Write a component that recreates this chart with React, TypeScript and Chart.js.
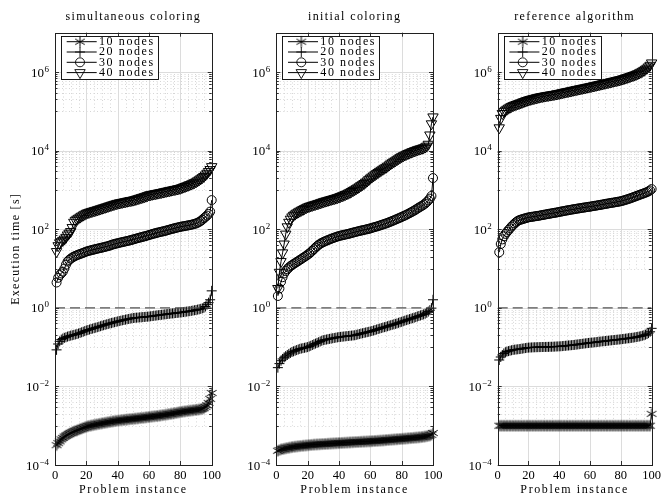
import React, { useEffect, useRef } from 'react';
import { Chart, registerables } from 'chart.js';
import { drawPoint } from 'chart.js/helpers';

Chart.register(...registerables);

// ---------------- data ----------------
const instances = Array.from({ length: 100 }, (_, i) => i + 1);
const seriesLabels = ['10 nodes', '20 nodes', '30 nodes', '40 nodes'];
const panelTitles = ['simultaneous coloring', 'initial coloring', 'reference algorithm'];
const xTickValues = [0, 20, 40, 60, 80, 100];
const yTickValues = [1e-4, 1e-2, 1, 1e2, 1e4, 1e6];
const yTickBase = '10';
const yTickExponents = ['−4', '−2', '0', '2', '4', '6'];
const xAxisTitle = 'Problem instance';
const yAxisTitle = 'Execution time [s]';
const thresholdX = [0, 100];
const thresholdY = [1, 1];

const sim10 = [
  3.2e-4, 3.6e-4, 4.0e-4, 4.5e-4, 4.9e-4, 5.3e-4, 5.6e-4, 5.9e-4, 6.2e-4, 6.5e-4,
  6.8e-4, 7.1e-4, 7.4e-4, 7.6e-4, 7.9e-4, 8.2e-4, 8.5e-4, 8.8e-4, 9.1e-4, 9.4e-4,
  9.7e-4, 9.9e-4, 1.01e-3, 1.03e-3, 1.05e-3, 1.07e-3, 1.09e-3, 1.11e-3, 1.13e-3, 1.15e-3,
  1.17e-3, 1.19e-3, 1.21e-3, 1.23e-3, 1.25e-3, 1.27e-3, 1.29e-3, 1.31e-3, 1.33e-3, 1.35e-3,
  1.36e-3, 1.38e-3, 1.39e-3, 1.41e-3, 1.42e-3, 1.44e-3, 1.45e-3, 1.47e-3, 1.48e-3, 1.50e-3,
  1.51e-3, 1.53e-3, 1.54e-3, 1.56e-3, 1.58e-3, 1.59e-3, 1.61e-3, 1.63e-3, 1.65e-3, 1.67e-3,
  1.69e-3, 1.71e-3, 1.73e-3, 1.75e-3, 1.77e-3, 1.79e-3, 1.81e-3, 1.84e-3, 1.86e-3, 1.89e-3,
  1.92e-3, 1.95e-3, 1.98e-3, 2.01e-3, 2.04e-3, 2.07e-3, 2.11e-3, 2.15e-3, 2.19e-3, 2.23e-3,
  2.26e-3, 2.29e-3, 2.32e-3, 2.35e-3, 2.38e-3, 2.41e-3, 2.44e-3, 2.47e-3, 2.50e-3, 2.53e-3,
  2.56e-3, 2.60e-3, 2.64e-3, 2.70e-3, 2.80e-3, 3.0e-3, 3.3e-3, 3.8e-3, 4.8e-3, 6.8e-3,
];
const sim20 = [
  0.085, 0.12, 0.14, 0.155, 0.165, 0.172, 0.178, 0.185, 0.19, 0.196,
  0.2, 0.205, 0.21, 0.215, 0.222, 0.23, 0.238, 0.246, 0.255, 0.265,
  0.272, 0.28, 0.288, 0.296, 0.304, 0.312, 0.32, 0.33, 0.34, 0.35,
  0.36, 0.37, 0.38, 0.39, 0.4, 0.41, 0.42, 0.43, 0.44, 0.45,
  0.46, 0.47, 0.48, 0.49, 0.5, 0.51, 0.52, 0.53, 0.54, 0.55,
  0.555, 0.56, 0.565, 0.57, 0.575, 0.58, 0.585, 0.59, 0.595, 0.6,
  0.608, 0.616, 0.624, 0.632, 0.64, 0.648, 0.656, 0.664, 0.672, 0.68,
  0.688, 0.696, 0.704, 0.712, 0.72, 0.728, 0.736, 0.744, 0.752, 0.76,
  0.77, 0.78, 0.79, 0.8, 0.81, 0.82, 0.835, 0.85, 0.865, 0.88,
  0.9, 0.92, 0.94, 0.97, 1.0, 1.08, 1.2, 1.35, 1.6, 2.7,
];
const sim30 = [
  4.4, 5.8, 6.8, 7.5, 8.3, 10, 12.5, 15, 16.5, 17.8,
  19, 20, 21, 21.8, 22.6, 23.4, 24.2, 25, 26, 27,
  27.7, 28.4, 29.1, 29.8, 30.5, 31.2, 31.9, 32.6, 33.3, 34,
  34.8, 35.6, 36.4, 37.3, 38.5, 39.8, 41, 42, 43, 44,
  45, 46, 47, 48, 49, 50, 51, 52.3, 53.6, 55,
  56.5, 58, 59.5, 61, 62.5, 64, 65.6, 67.3, 69, 71,
  73, 75, 77, 79, 81, 82.8, 84.6, 86.4, 88.2, 90,
  92.5, 95, 97.5, 100, 102.5, 105, 107.5, 110, 112.5, 115,
  117, 119, 121, 123, 125, 127.5, 130, 133, 136.5, 140,
  146, 153, 162, 174, 190, 205, 222, 245, 280, 550,
];
const sim40 = [
  27, 38, 45, 48, 52, 56, 62, 71, 79, 87,
  110, 150, 168, 180, 190, 203, 215, 228, 240, 253,
  262, 270, 278, 286, 294, 302, 311, 320, 330, 340,
  350, 360, 371, 382, 394, 406, 418, 430, 442, 455,
  464, 473, 482, 492, 502, 512, 522, 533, 541, 550,
  565, 580, 597, 614, 632, 650, 670, 690, 715, 740,
  755, 770, 785, 800, 815, 830, 846, 862, 880, 900,
  918, 936, 955, 975, 995, 1015, 1035, 1056, 1078, 1100,
  1140, 1180, 1220, 1265, 1310, 1360, 1410, 1470, 1530, 1600,
  1700, 1800, 1920, 2050, 2200, 2400, 2650, 2950, 3300, 3900,
];

const init10 = [
  2.3e-4, 2.4e-4, 2.5e-4, 2.55e-4, 2.6e-4, 2.65e-4, 2.7e-4, 2.75e-4, 2.8e-4, 2.85e-4,
  2.9e-4, 2.93e-4, 2.96e-4, 3.0e-4, 3.03e-4, 3.06e-4, 3.09e-4, 3.12e-4, 3.15e-4, 3.18e-4,
  3.21e-4, 3.24e-4, 3.27e-4, 3.3e-4, 3.32e-4, 3.34e-4, 3.36e-4, 3.38e-4, 3.4e-4, 3.42e-4,
  3.44e-4, 3.46e-4, 3.48e-4, 3.5e-4, 3.52e-4, 3.54e-4, 3.56e-4, 3.58e-4, 3.6e-4, 3.62e-4,
  3.64e-4, 3.66e-4, 3.68e-4, 3.7e-4, 3.72e-4, 3.74e-4, 3.76e-4, 3.78e-4, 3.8e-4, 3.82e-4,
  3.84e-4, 3.86e-4, 3.88e-4, 3.9e-4, 3.92e-4, 3.94e-4, 3.96e-4, 3.98e-4, 4.0e-4, 4.02e-4,
  4.05e-4, 4.08e-4, 4.1e-4, 4.12e-4, 4.15e-4, 4.18e-4, 4.2e-4, 4.23e-4, 4.26e-4, 4.3e-4,
  4.33e-4, 4.36e-4, 4.4e-4, 4.43e-4, 4.46e-4, 4.5e-4, 4.53e-4, 4.56e-4, 4.6e-4, 4.63e-4,
  4.67e-4, 4.7e-4, 4.74e-4, 4.78e-4, 4.82e-4, 4.86e-4, 4.9e-4, 4.94e-4, 4.98e-4, 5.02e-4,
  5.07e-4, 5.12e-4, 5.18e-4, 5.25e-4, 5.33e-4, 5.42e-4, 5.52e-4, 5.65e-4, 5.85e-4, 6.5e-4,
];
const init20 = [
  0.03, 0.038, 0.045, 0.05, 0.055, 0.059, 0.063, 0.067, 0.071, 0.075,
  0.078, 0.081, 0.084, 0.087, 0.09, 0.092, 0.094, 0.096, 0.098, 0.1,
  0.104, 0.108, 0.113, 0.118, 0.123, 0.128, 0.133, 0.139, 0.145, 0.15,
  0.153, 0.156, 0.159, 0.162, 0.165, 0.168, 0.171, 0.174, 0.177, 0.18,
  0.182, 0.184, 0.186, 0.188, 0.19, 0.192, 0.194, 0.196, 0.198, 0.2,
  0.205, 0.21, 0.215, 0.22, 0.225, 0.23, 0.235, 0.24, 0.245, 0.25,
  0.257, 0.264, 0.272, 0.28, 0.288, 0.296, 0.305, 0.314, 0.322, 0.33,
  0.34, 0.35, 0.36, 0.37, 0.38, 0.39, 0.4, 0.415, 0.428, 0.44,
  0.455, 0.47, 0.485, 0.5, 0.515, 0.53, 0.545, 0.56, 0.58, 0.6,
  0.62, 0.64, 0.66, 0.68, 0.71, 0.75, 0.8, 0.87, 0.98, 1.6,
];
const init30 = [
  2.0, 3.1, 4.6, 6.0, 7.5, 8.6, 9.6, 10.5, 11.5, 12.2,
  13, 13.8, 14.6, 15.5, 16.5, 17.5, 18.6, 19.8, 21, 22.5,
  24, 26, 28.5, 31, 34, 37, 40, 42.5, 45, 47,
  49, 51, 53, 55, 57, 59, 61, 63, 65, 67,
  68.5, 70, 71.5, 73, 74.5, 76, 78, 80, 82, 84,
  86, 88, 90, 92, 94, 96, 98, 100, 102, 105,
  108, 111, 114, 117, 120, 124, 128, 132, 136, 140,
  145, 150, 156, 162, 168, 175, 182, 189, 197, 205,
  214, 223, 233, 244, 256, 269, 283, 298, 315, 335,
  355, 375, 395, 420, 450, 490, 540, 600, 700, 2000,
];
const init40 = [
  3.1, 8, 15, 25, 42, 75, 115, 150, 180, 205,
  225, 242, 258, 273, 288, 303, 318, 334, 350, 367,
  380, 392, 404, 416, 428, 440, 453, 467, 482, 498,
  512, 526, 540, 555, 570, 585, 600, 617, 635, 655,
  680, 705, 730, 760, 790, 825, 865, 910, 960, 1010,
  1070, 1130, 1200, 1280, 1360, 1450, 1560, 1680, 1820, 1980,
  2120, 2270, 2430, 2600, 2780, 2960, 3150, 3350, 3550, 3750,
  4000, 4300, 4600, 4900, 5200, 5500, 5850, 6200, 6600, 7000,
  7350, 7700, 8050, 8400, 8750, 9100, 9450, 9800, 10100, 10500,
  10800, 11100, 11400, 11800, 12300, 13000, 14500, 25000, 48000, 72000,
];

const ref10 = [
  0.001, 0.001, 0.001, 0.001, 0.001, 0.001, 0.001, 0.001, 0.001, 0.001,
  0.001, 0.001, 0.001, 0.001, 0.001, 0.001, 0.001, 0.001, 0.001, 0.001,
  0.001, 0.001, 0.001, 0.001, 0.001, 0.001, 0.001, 0.001, 0.001, 0.001,
  0.001, 0.001, 0.001, 0.001, 0.001, 0.001, 0.001, 0.001, 0.001, 0.001,
  0.001, 0.001, 0.001, 0.001, 0.001, 0.001, 0.001, 0.001, 0.001, 0.001,
  0.001, 0.001, 0.001, 0.001, 0.001, 0.001, 0.001, 0.001, 0.001, 0.001,
  0.001, 0.001, 0.001, 0.001, 0.001, 0.001, 0.001, 0.001, 0.001, 0.001,
  0.001, 0.001, 0.001, 0.001, 0.001, 0.001, 0.001, 0.001, 0.001, 0.001,
  0.001, 0.001, 0.001, 0.001, 0.001, 0.001, 0.001, 0.001, 0.001, 0.001,
  0.001, 0.001, 0.001, 0.001, 0.001, 0.001, 0.001, 0.001, 0.001, 0.002,
];
const ref20 = [
  0.047, 0.056, 0.063, 0.069, 0.074, 0.077, 0.079, 0.081, 0.083, 0.085,
  0.086, 0.087, 0.088, 0.089, 0.09, 0.0915, 0.093, 0.0945, 0.096, 0.097,
  0.0975, 0.098, 0.0985, 0.099, 0.0993, 0.0996, 0.0999, 0.1002, 0.1005, 0.1008,
  0.101, 0.1012, 0.1015, 0.1018, 0.102, 0.1025, 0.103, 0.1035, 0.104, 0.1045,
  0.105, 0.106, 0.107, 0.108, 0.109, 0.11, 0.111, 0.112, 0.113, 0.114,
  0.1155, 0.117, 0.1185, 0.12, 0.1215, 0.123, 0.1245, 0.126, 0.1275, 0.129,
  0.13, 0.131, 0.1325, 0.134, 0.1355, 0.137, 0.1385, 0.14, 0.1415, 0.143,
  0.1445, 0.146, 0.1475, 0.149, 0.1505, 0.152, 0.1535, 0.155, 0.1565, 0.158,
  0.16, 0.162, 0.164, 0.166, 0.168, 0.17, 0.172, 0.174, 0.177, 0.18,
  0.183, 0.186, 0.19, 0.195, 0.2, 0.207, 0.215, 0.227, 0.245, 0.3,
];
const ref30 = [
  26, 42, 55, 66, 76, 85, 95, 105, 117, 128,
  140, 152, 162, 170, 175, 180, 185, 190, 195, 200,
  203, 206, 209, 212, 215, 218, 221, 225, 229, 233,
  237, 241, 245, 249, 253, 257, 261, 265, 270, 275,
  280, 285, 290, 295, 300, 305, 310, 315, 320, 325,
  330, 335, 340, 345, 350, 355, 360, 365, 370, 375,
  381, 387, 393, 399, 405, 411, 418, 425, 432, 440,
  447, 454, 461, 468, 475, 482, 490, 498, 506, 515,
  528, 542, 557, 573, 590, 608, 628, 650, 672, 695,
  720, 745, 770, 795, 820, 850, 880, 920, 970, 1050,
];
const ref40 = [
  38000, 66000, 88000, 98000, 106000, 113000, 120000, 127000, 133000, 139000,
  144000, 149000, 154000, 159000, 164000, 170000, 176000, 182000, 188000, 194000,
  199000, 204000, 209000, 214000, 219000, 224000, 229000, 234000, 238000, 242000,
  246000, 250000, 254000, 258000, 262000, 266000, 270000, 275000, 280000, 285000,
  291000, 297000, 303000, 309000, 315000, 321000, 327000, 334000, 341000, 348000,
  355000, 362000, 369000, 376000, 383000, 390000, 398000, 406000, 414000, 422000,
  431000, 440000, 449000, 458000, 468000, 478000, 488000, 498000, 509000, 520000,
  531000, 542000, 554000, 566000, 578000, 590000, 603000, 616000, 630000, 644000,
  662000, 680000, 700000, 720000, 742000, 765000, 790000, 815000, 842000, 870000,
  905000, 945000, 990000, 1040000, 1100000, 1170000, 1250000, 1350000, 1480000, 1700000,
];

const panelSeries = [
  [sim10, sim20, sim30, sim40],
  [init10, init20, init30, init40],
  [ref10, ref20, ref30, ref40],
];

// ---------------- layout / style ----------------
const W = 664;
const H = 496;
const FONT = '"Liberation Serif", "Times New Roman", serif';
const PANEL_LEFT = [55, 276.3, 497.7];
const PANEL_RIGHT = [211.7, 433, 654.3];
const PLOT_TOP = 32.7;
const PLOT_BOTTOM = 465;
const Y_AXIS_W = 50;
const MINOR_DECADES = [-3, -1, 1, 3, 5];
const MAJOR_DECADES = [-4, -2, 0, 2, 4, 6];
const X_MINOR = [5, 10, 15, 25, 30, 35, 45, 50, 55, 65, 70, 75, 85, 90, 95];
const X_MAJOR_INNER = [20, 40, 60, 80];

let asteriskCanvas: HTMLCanvasElement | null = null;
function getAsterisk() {
  if (asteriskCanvas) return asteriskCanvas;
  const c = document.createElement('canvas');
  c.width = 14;
  c.height = 14;
  const g = c.getContext('2d')!;
  g.strokeStyle = '#000';
  g.lineWidth = 1;
  const r = 5.5;
  for (const deg of [90, 30, 150]) {
    const a = (deg * Math.PI) / 180;
    g.beginPath();
    g.moveTo(7 - r * Math.cos(a), 7 - r * Math.sin(a));
    g.lineTo(7 + r * Math.cos(a), 7 + r * Math.sin(a));
    g.stroke();
  }
  asteriskCanvas = c;
  return c;
}

function markerFor(i: number) {
  if (i === 0) return { pointStyle: getAsterisk() as any, radius: 5.5, rotation: 0 };
  if (i === 1) return { pointStyle: 'cross', radius: 5, rotation: 0 };
  if (i === 2) return { pointStyle: 'circle', radius: 4.5, rotation: 0 };
  return { pointStyle: 'triangle', radius: 6, rotation: 180 };
}

function hLine(ctx: CanvasRenderingContext2D, x0: number, x1: number, y: number) {
  ctx.beginPath();
  ctx.moveTo(x0, y);
  ctx.lineTo(x1, y);
  ctx.stroke();
}
function vLine(ctx: CanvasRenderingContext2D, x: number, y0: number, y1: number) {
  ctx.beginPath();
  ctx.moveTo(x, y0);
  ctx.lineTo(x, y1);
  ctx.stroke();
}
const snap = (v: number) => Math.round(v) + 0.5;

function makeDecor(p: number) {
  return {
    id: 'decor' + p,
    beforeDatasetsDraw(chart: any) {
      const { ctx, chartArea: a } = chart;
      const xs = chart.scales.x;
      const ys = chart.scales.y;
      ctx.save();
      ctx.lineWidth = 1;
      // minor dotted grid
      ctx.strokeStyle = '#d6d6d6';
      ctx.setLineDash([1, 2.5]);
      for (const e of MINOR_DECADES) {
        for (let m = 1; m <= 9; m++) {
          const py = snap(ys.getPixelForValue(m * Math.pow(10, e)));
          hLine(ctx, a.left, a.right, py);
        }
        const yTop = ys.getPixelForValue(Math.pow(10, e + 1));
        const yBot = ys.getPixelForValue(Math.pow(10, e));
        for (const xv of X_MINOR) {
          vLine(ctx, snap(xs.getPixelForValue(xv)), yTop, yBot);
        }
      }
      // major solid grid
      ctx.setLineDash([]);
      ctx.strokeStyle = '#dcdcdc';
      for (const xv of X_MAJOR_INNER) vLine(ctx, snap(xs.getPixelForValue(xv)), a.top, a.bottom);
      for (const e of MAJOR_DECADES) {
        if (e === -4) continue;
        hLine(ctx, a.left, a.right, snap(ys.getPixelForValue(Math.pow(10, e))));
      }
      ctx.restore();
    },
    afterDatasetsDraw(chart: any) {
      const { ctx, chartArea: a } = chart;
      const xs = chart.scales.x;
      const ys = chart.scales.y;
      ctx.save();
      // inward ticks
      ctx.strokeStyle = '#303030';
      ctx.lineWidth = 1;
      for (const e of MAJOR_DECADES) {
        const py = snap(ys.getPixelForValue(Math.pow(10, e)));
        hLine(ctx, a.left, a.left + 4, py);
        hLine(ctx, a.right - 4, a.right, py);
      }
      for (const e of MINOR_DECADES) {
        for (let m = 1; m <= 9; m++) {
          const py = snap(ys.getPixelForValue(m * Math.pow(10, e)));
          hLine(ctx, a.left, a.left + 2.5, py);
          hLine(ctx, a.right - 2.5, a.right, py);
        }
      }
      for (const xv of X_MAJOR_INNER) {
        const px = snap(xs.getPixelForValue(xv));
        vLine(ctx, px, a.top, a.top + 4);
        vLine(ctx, px, a.bottom - 4, a.bottom);
      }
      // frame
      ctx.strokeStyle = '#202020';
      ctx.strokeRect(snap(a.left), snap(a.top), Math.round(a.right) - Math.round(a.left), Math.round(a.bottom) - Math.round(a.top));

      // y tick labels: 10 with raised exponent
      ctx.fillStyle = '#000';
      ctx.textBaseline = 'alphabetic';
      ctx.textAlign = 'left';
      yTickValues.forEach((v, i) => {
        const py = ys.getPixelForValue(v);
        ctx.font = '9px ' + FONT;
        const ew = ctx.measureText(yTickExponents[i]).width;
        ctx.font = '13px ' + FONT;
        const bw = ctx.measureText(yTickBase).width;
        const right = a.left - 6;
        const x0 = right - ew - bw - 0.5;
        ctx.fillText(yTickBase, x0, py + 4.5);
        ctx.font = '9px ' + FONT;
        ctx.fillText(yTickExponents[i], x0 + bw + 0.5, py - 0.5);
      });

      // legend
      const L = a.left;
      const bx = L + 6;
      const by = a.top + 3.3;
      ctx.fillStyle = '#fff';
      ctx.fillRect(bx, by, 97.3, 43.3);
      ctx.strokeStyle = '#000';
      ctx.lineWidth = 0.9;
      ctx.strokeRect(snap(bx), snap(by), 97, 43);
      ctx.font = '12px ' + FONT;
      (ctx as any).letterSpacing = '1.6px';
      ctx.textAlign = 'left';
      ctx.textBaseline = 'alphabetic';
      for (let i = 0; i < 4; i++) {
        const ly = a.top + 9 + i * 10.3;
        ctx.strokeStyle = '#000';
        ctx.lineWidth = 1;
        hLine(ctx, L + 11.7, L + 41.7, ly);
        const mk = markerFor(i);
        ctx.fillStyle = 'rgba(0,0,0,0)';
        ctx.strokeStyle = '#000';
        ctx.lineWidth = 0.9;
        drawPoint(ctx, { pointStyle: mk.pointStyle, rotation: mk.rotation, radius: mk.radius, borderWidth: 0.9 } as any, L + 25, ly);
        ctx.fillStyle = '#000';
        ctx.fillText(seriesLabels[i], L + 44, ly + 3.4);
      }

      // titles
      ctx.fillStyle = '#000';
      ctx.textAlign = 'center';
      (ctx as any).letterSpacing = '1.4px';
      ctx.fillText(panelTitles[p], (a.left + a.right) / 2, 19.5);
      (ctx as any).letterSpacing = '1.6px';
      ctx.fillText(xAxisTitle, (a.left + a.right) / 2, 493);
      if (p === 0) {
        ctx.save();
        ctx.translate(19, (a.top + a.bottom) / 2);
        ctx.rotate(-Math.PI / 2);
        (ctx as any).letterSpacing = '1.3px';
        ctx.fillText(yAxisTitle, 0, 0);
        ctx.restore();
      }
      (ctx as any).letterSpacing = '0px';
      ctx.restore();
    },
  };
}

function buildConfig(p: number): any {
  const series = panelSeries[p];
  const datasets: any[] = [
    {
      label: 'threshold',
      data: thresholdX.map((x, i) => ({ x, y: thresholdY[i] })),
      borderColor: '#555',
      borderWidth: 1.3,
      borderDash: [10, 5],
      pointRadius: 0,
      fill: false,
    },
  ];
  series.forEach((vals, i) => {
    const mk = markerFor(i);
    datasets.push({
      label: seriesLabels[i],
      data: instances.map((x, k) => ({ x, y: vals[k] })),
      borderColor: '#000',
      borderWidth: 1,
      pointStyle: mk.pointStyle,
      pointRadius: mk.radius,
      pointRotation: mk.rotation,
      pointBorderColor: '#000',
      pointBackgroundColor: 'rgba(0,0,0,0)',
      pointBorderWidth: 1,
      fill: false,
      tension: 0,
      clip: false,
    });
  });
  return {
    type: 'line',
    data: { datasets },
    options: {
      responsive: false,
      animation: false,
      devicePixelRatio: 1,
      events: [],
      layout: {
        padding: {
          left: PANEL_LEFT[p] - Y_AXIS_W,
          right: W - PANEL_RIGHT[p],
          top: PLOT_TOP,
          bottom: 0,
        },
      },
      plugins: {
        legend: { display: false },
        title: { display: false },
        tooltip: { enabled: false },
      },
      scales: {
        x: {
          type: 'linear',
          min: 0,
          max: 100,
          grid: { display: false, drawTicks: false },
          border: { display: false },
          afterBuildTicks: (s: any) => {
            s.ticks = xTickValues.map((v) => ({ value: v }));
          },
          afterFit: (s: any) => {
            s.height = H - PLOT_BOTTOM;
          },
          ticks: {
            autoSkip: false,
            maxRotation: 0,
            padding: 3,
            color: '#000',
            font: { family: FONT, size: 12.5 },
          },
        },
        y: {
          type: 'logarithmic',
          min: 1e-4,
          max: 1e7,
          grid: { display: false, drawTicks: false },
          border: { display: false },
          afterBuildTicks: (s: any) => {
            s.ticks = yTickValues.map((v) => ({ value: v }));
          },
          afterFit: (s: any) => {
            s.width = Y_AXIS_W;
          },
          ticks: {
            display: false,
            autoSkip: false,
          },
        },
      },
    },
    plugins: [makeDecor(p)],
  };
}

function Panel({ idx }: { idx: number }) {
  const ref = useRef<HTMLCanvasElement | null>(null);
  useEffect(() => {
    if (!ref.current) return;
    const chart = new Chart(ref.current, buildConfig(idx));
    return () => chart.destroy();
  }, [idx]);
  return (
    <canvas
      ref={ref}
      width={W}
      height={H}
      style={{ position: 'absolute', left: 0, top: 0, width: W, height: H }}
    />
  );
}

export default function App() {
  return (
    <div style={{ position: 'fixed', left: 0, top: 0, width: W, height: H, background: '#fff' }}>
      {[0, 1, 2].map((i) => (
        <Panel key={i} idx={i} />
      ))}
    </div>
  );
}
